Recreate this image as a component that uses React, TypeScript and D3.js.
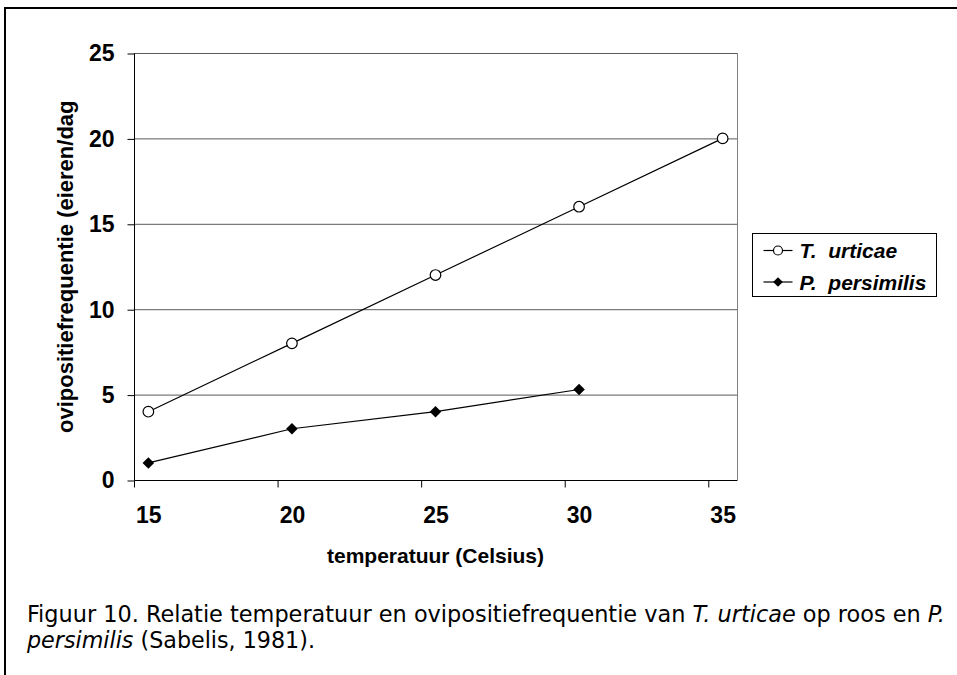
import React, { useEffect, useRef } from 'react';
import * as d3 from 'd3';

// temperature categories (Celsius)
const temps = [15, 20, 25, 30, 35];
// ovipositiefrequentie (eieren/dag)
const urticae = [4, 8, 12, 16, 20];
const persimilisTemps = [15, 20, 25, 30];
const persimilis = [1, 3, 4, 5.3];
const yTicks = [0, 5, 10, 15, 20, 25];
const seriesNames = ['T.  urticae', 'P.  persimilis'];

const App = () => {
  const ref = useRef<SVGSVGElement>(null);

  useEffect(() => {
    const svg = d3.select(ref.current);
    svg.selectAll('*').remove();

    const W = 957;
    const H = 675;
    const plot = { left: 134, top: 53, right: 737, bottom: 480 };
    const font = '"Liberation Sans", Arial, sans-serif';

    svg.append('rect').attr('width', W).attr('height', H).attr('fill', '#fff');

    // outer frame (runs past the right and bottom edge)
    svg.append('rect')
      .attr('x', 5).attr('y', 8)
      .attr('width', W + 20).attr('height', H + 20)
      .attr('fill', 'none').attr('stroke', '#000').attr('stroke-width', 2);

    const x = d3.scaleLinear().domain([14.5, 35.5]).range([plot.left, plot.right]);
    const y = d3.scaleLinear().domain([0, 25]).range([plot.bottom, plot.top]);

    // gridlines
    svg.append('g').selectAll('line')
      .data(yTicks.filter(d => d > 0))
      .enter().append('line')
      .attr('x1', plot.left).attr('x2', plot.right)
      .attr('y1', d => y(d) + 0.5).attr('y2', d => y(d) + 0.5)
      .attr('stroke', '#5a5a5a').attr('stroke-width', 1);

    // right frame side
    svg.append('line')
      .attr('x1', plot.right + 0.5).attr('x2', plot.right + 0.5)
      .attr('y1', plot.top).attr('y2', plot.bottom)
      .attr('stroke', '#808080');

    // y axis
    const yAxis = svg.append('g')
      .attr('transform', `translate(${plot.left + 0.5},0.5)`)
      .call(d3.axisLeft(y).tickValues(yTicks).tickSize(7).tickPadding(13).tickFormat(d3.format('d')));
    yAxis.select('.domain').attr('stroke', '#000').attr('d', `M0,${plot.top}V${plot.bottom}`);
    yAxis.selectAll('line').attr('stroke', '#000');
    yAxis.selectAll('text')
      .attr('font-family', font).attr('font-size', 23).attr('font-weight', 'bold').attr('fill', '#000');

    // x axis: ticks sit half a degree before each label
    const xAxis = svg.append('g').attr('transform', `translate(0.5,${plot.bottom + 0.5})`);
    xAxis.append('line')
      .attr('x1', plot.left).attr('x2', plot.right)
      .attr('stroke', '#000');
    xAxis.selectAll('.tick')
      .data(temps)
      .enter().append('line')
      .attr('x1', d => x(d - 0.5)).attr('x2', d => x(d - 0.5))
      .attr('y1', 0).attr('y2', 7)
      .attr('stroke', '#000');
    xAxis.selectAll('.lbl')
      .data(temps)
      .enter().append('text')
      .attr('x', d => x(d)).attr('y', 42)
      .attr('text-anchor', 'middle')
      .attr('font-family', font).attr('font-size', 23).attr('font-weight', 'bold')
      .text(d => d);

    // axis titles
    svg.append('text')
      .attr('x', (plot.left + plot.right) / 2).attr('y', 563)
      .attr('text-anchor', 'middle')
      .attr('font-family', font).attr('font-size', 21).attr('font-weight', 'bold')
      .text('temperatuur (Celsius)');

    svg.append('text')
      .attr('transform', 'translate(73,433) rotate(-90)')
      .attr('font-family', font).attr('font-size', 22).attr('font-weight', 'bold')
      .text('ovipositiefrequentie (eieren/dag');

    // series
    const line = d3.line<[number, number]>().x(d => x(d[0])).y(d => y(d[1]));
    const uData: [number, number][] = temps.map((t, i) => [t, urticae[i]]);
    const pData: [number, number][] = persimilisTemps.map((t, i) => [t, persimilis[i]]);

    svg.append('path').attr('d', line(uData)).attr('fill', 'none').attr('stroke', '#000').attr('stroke-width', 1.2);
    svg.append('path').attr('d', line(pData)).attr('fill', 'none').attr('stroke', '#000').attr('stroke-width', 1.2);

    const diamond = d3.symbol().type(d3.symbolDiamond2).size(85);

    svg.append('g').selectAll('circle')
      .data(uData)
      .enter().append('circle')
      .attr('cx', d => x(d[0])).attr('cy', d => y(d[1]))
      .attr('r', 5.3)
      .attr('fill', '#fff').attr('stroke', '#000').attr('stroke-width', 1.2);

    svg.append('g').selectAll('path')
      .data(pData)
      .enter().append('path')
      .attr('transform', d => `translate(${x(d[0])},${y(d[1])})`)
      .attr('d', diamond())
      .attr('fill', '#000');

    // legend
    const lg = svg.append('g').attr('transform', 'translate(752.5,233.5)');
    lg.append('rect').attr('width', 184).attr('height', 63)
      .attr('fill', '#fff').attr('stroke', '#000').attr('stroke-width', 1);
    seriesNames.forEach((name, i) => {
      const cy = 17 + i * 31.5;
      lg.append('line').attr('x1', 11).attr('x2', 40).attr('y1', cy).attr('y2', cy)
        .attr('stroke', '#000').attr('stroke-width', 1.2);
      if (i === 0) {
        lg.append('circle').attr('cx', 25.5).attr('cy', cy).attr('r', 4.5)
          .attr('fill', '#fff').attr('stroke', '#000').attr('stroke-width', 1.2);
      } else {
        lg.append('path').attr('transform', `translate(25.5,${cy})`)
          .attr('d', d3.symbol().type(d3.symbolDiamond2).size(60)()).attr('fill', '#000');
      }
      lg.append('text')
        .attr('x', 47).attr('y', cy + 7.5)
        .attr('font-family', font).attr('font-size', 21)
        .attr('font-weight', 'bold').attr('font-style', 'italic')
        .attr('xml:space', 'preserve')
        .style('white-space', 'pre')
        .text(name);
    });

    // caption
    const capFont = '"Liberation Sans Narrow", "Arial Narrow", "DejaVu Sans Condensed", sans-serif';
    const cap1 = svg.append('text')
      .attr('x', 27).attr('y', 622)
      .attr('textLength', 918).attr('lengthAdjust', 'spacingAndGlyphs')
      .attr('font-family', capFont).attr('font-size', 23).attr('fill', '#000');
    cap1.append('tspan').text('Figuur 10. Relatie temperatuur en ovipositiefrequentie van ');
    cap1.append('tspan').attr('font-style', 'italic').text('T. urticae');
    cap1.append('tspan').text(' op roos en ');
    cap1.append('tspan').attr('font-style', 'italic').text('P.');

    const cap2 = svg.append('text')
      .attr('x', 27).attr('y', 648)
      .attr('textLength', 288).attr('lengthAdjust', 'spacingAndGlyphs')
      .attr('font-family', capFont).attr('font-size', 23).attr('fill', '#000');
    cap2.append('tspan').attr('font-style', 'italic').text('persimilis');
    cap2.append('tspan').text(' (Sabelis, 1981).');
  }, []);

  return (
    <svg ref={ref} width={957} height={675}
      style={{ position: 'absolute', left: 0, top: 0, overflow: 'hidden' }} />
  );
};

export default App;
